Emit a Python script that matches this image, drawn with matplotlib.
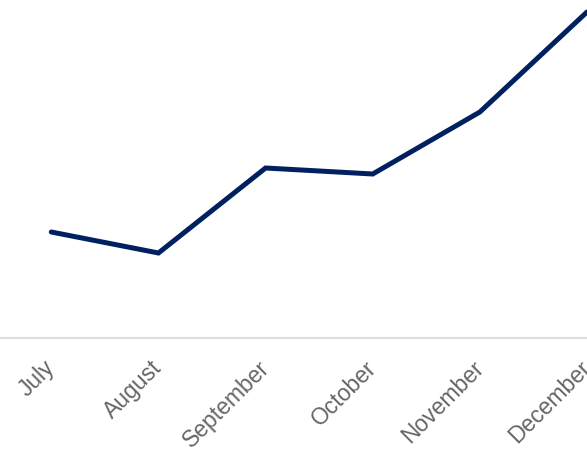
import matplotlib
matplotlib.use("Agg")
import matplotlib.pyplot as plt
from matplotlib.transforms import ScaledTranslation

months = ["July", "August", "September", "October", "November", "December"]
values = [106, 85, 170, 164, 226, 326]

fig = plt.figure(figsize=(5.87, 4.52), dpi=100)
ax = fig.add_axes([0, 113/452, 1, 339/452])
x = list(range(len(months)))
ax.plot(x, values, color="#002060", linewidth=3.6, solid_joinstyle="miter",
        solid_capstyle="round", clip_on=True)
ax.set_xlim(-52/108.6, (587-52)/108.6)
ax.set_ylim(0, 339)
for s in ["top", "right", "left"]:
    ax.spines[s].set_visible(False)
ax.spines["bottom"].set_color("#dddddd")
ax.spines["bottom"].set_linewidth(1.5)
ax.set_yticks([])
ax.set_xticks(x)
ax.set_xticklabels(months, rotation=45, ha="right", va="top", rotation_mode="anchor",
                   fontsize=16.5, color="#666666", family="Liberation Sans")
ax.tick_params(axis="x", length=0, pad=16)
offset = ScaledTranslation(-8/100, 5/100, fig.dpi_scale_trans)
for lab in ax.get_xticklabels():
    lab.set_transform(lab.get_transform() + offset)
fig.savefig("out.png", dpi=100)
